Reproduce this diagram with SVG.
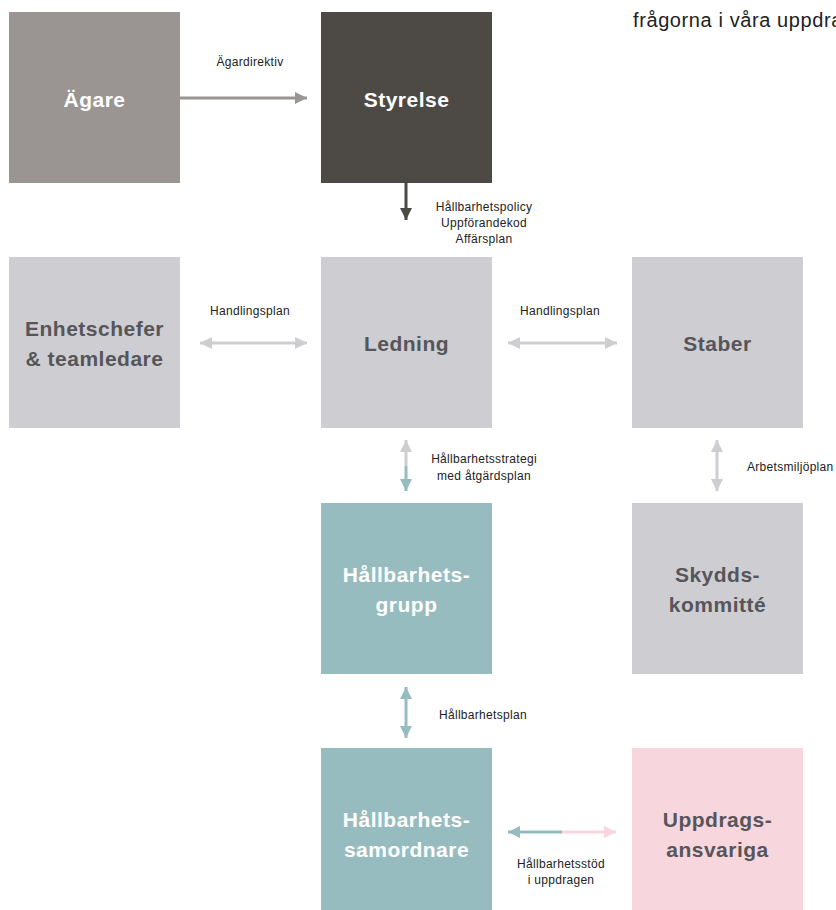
<svg xmlns="http://www.w3.org/2000/svg" width="836" height="910" viewBox="0 0 836 910">
<style>
.t{font-family:"Liberation Sans",Arial,sans-serif;font-weight:bold;font-size:21px;letter-spacing:0.5px;text-anchor:middle}
.w{fill:#ffffff}
.d{fill:#56555a}
.l{font-family:"Liberation Sans",Arial,sans-serif;font-size:12px;letter-spacing:0.3px;fill:#222222}
.c{text-anchor:middle}
</style>
<defs>
<marker id="ag" viewBox="0 0 10 10" refX="10" refY="5" markerWidth="4" markerHeight="4.6" orient="auto-start-reverse" markerUnits="strokeWidth"><path d="M0,0 L10,5 L0,10 z" fill="#9a9593"/></marker>
<marker id="ad" viewBox="0 0 10 10" refX="10" refY="5" markerWidth="4" markerHeight="4.6" orient="auto-start-reverse" markerUnits="strokeWidth"><path d="M0,0 L10,5 L0,10 z" fill="#4d4a46"/></marker>
<marker id="al" viewBox="0 0 10 10" refX="10" refY="5" markerWidth="4" markerHeight="4.6" orient="auto-start-reverse" markerUnits="strokeWidth"><path d="M0,0 L10,5 L0,10 z" fill="#cdcdd2"/></marker>
<marker id="at" viewBox="0 0 10 10" refX="10" refY="5" markerWidth="4" markerHeight="4.6" orient="auto-start-reverse" markerUnits="strokeWidth"><path d="M0,0 L10,5 L0,10 z" fill="#97bcbf"/></marker>
<marker id="ap" viewBox="0 0 10 10" refX="10" refY="5" markerWidth="4" markerHeight="4.6" orient="auto-start-reverse" markerUnits="strokeWidth"><path d="M0,0 L10,5 L0,10 z" fill="#f7d6dd"/></marker>
</defs>
<rect width="836" height="910" fill="#ffffff"/>
<text x="633" y="27" font-family="Liberation Sans,Arial,sans-serif" font-size="20" letter-spacing="0.6" fill="#222222">frågorna i våra uppdrag</text>

<g id="agare"><rect x="9" y="12" width="171" height="171" fill="#9a9593"/><text class="t w" x="94.5" y="107">Ägare</text></g>
<g id="styrelse"><rect x="321" y="12" width="171" height="171" fill="#4d4a46"/><text class="t w" x="406.5" y="107">Styrelse</text></g>
<g id="enhetschefer"><rect x="9" y="257" width="171" height="171" fill="#cdcdd2"/><text class="t d" x="94.5" y="336">Enhetschefer</text><text class="t d" x="94.5" y="366">&amp; teamledare</text></g>
<g id="ledning"><rect x="321" y="257" width="171" height="171" fill="#cdcdd2"/><text class="t d" x="406.5" y="351">Ledning</text></g>
<g id="staber"><rect x="632" y="257" width="171" height="171" fill="#cdcdd2"/><text class="t d" x="717.5" y="351">Staber</text></g>
<g id="hallbarhetsgrupp"><rect x="321" y="503" width="171" height="171" fill="#97bcbf"/><text class="t w" x="406.5" y="582">Hållbarhets-</text><text class="t w" x="406.5" y="612">grupp</text></g>
<g id="skyddskommitte"><rect x="632" y="503" width="171" height="171" fill="#cdcdd2"/><text class="t d" x="717.5" y="582">Skydds-</text><text class="t d" x="717.5" y="612">kommitté</text></g>
<g id="hallbarhetssamordnare"><rect x="321" y="748" width="171" height="171" fill="#97bcbf"/><text class="t w" x="406.5" y="827">Hållbarhets-</text><text class="t w" x="406.5" y="857">samordnare</text></g>
<g id="uppdragsansvariga"><rect x="632" y="748" width="171" height="171" fill="#f7d6dd"/><text class="t d" x="717.5" y="827">Uppdrags-</text><text class="t d" x="717.5" y="857">ansvariga</text></g>

<g id="connectors" fill="none" stroke-width="3">
<line x1="180" y1="98" x2="307" y2="98" stroke="#9a9593" marker-end="url(#ag)"/>
<line x1="406" y1="183" x2="406" y2="220" stroke="#4d4a46" marker-end="url(#ad)"/>
<line x1="200" y1="343" x2="307" y2="343" stroke="#cdcdd2" marker-start="url(#al)" marker-end="url(#al)"/>
<line x1="508" y1="343" x2="617" y2="343" stroke="#cdcdd2" marker-start="url(#al)" marker-end="url(#al)"/>
<line x1="406" y1="440" x2="406" y2="466" stroke="#cdcdd2" marker-start="url(#al)"/>
<line x1="406" y1="466" x2="406" y2="491" stroke="#97bcbf" marker-end="url(#at)"/>
<line x1="717" y1="440" x2="717" y2="491" stroke="#cdcdd2" marker-start="url(#al)" marker-end="url(#al)"/>
<line x1="406" y1="687" x2="406" y2="738" stroke="#97bcbf" marker-start="url(#at)" marker-end="url(#at)"/>
<line x1="508" y1="832" x2="562" y2="832" stroke="#97bcbf" marker-start="url(#at)"/>
<line x1="562" y1="832" x2="616" y2="832" stroke="#f7d6dd" marker-end="url(#ap)"/>
</g>
<g id="labels">
<text class="l c" x="250" y="66">Ägardirektiv</text>
<text class="l c" x="484" y="211">Hållbarhetspolicy</text>
<text class="l c" x="484" y="227">Uppförandekod</text>
<text class="l c" x="484" y="243">Affärsplan</text>
<text class="l c" x="250" y="315">Handlingsplan</text>
<text class="l c" x="560" y="315">Handlingsplan</text>
<text class="l c" x="484" y="463">Hållbarhetsstrategi</text>
<text class="l c" x="484" y="480">med åtgärdsplan</text>
<text class="l" x="747" y="471">Arbetsmiljöplan</text>
<text class="l" x="439" y="719">Hållbarhetsplan</text>
<text class="l c" x="561" y="868">Hållbarhetsstöd</text>
<text class="l c" x="561" y="884">i uppdragen</text>
</g>
</svg>
